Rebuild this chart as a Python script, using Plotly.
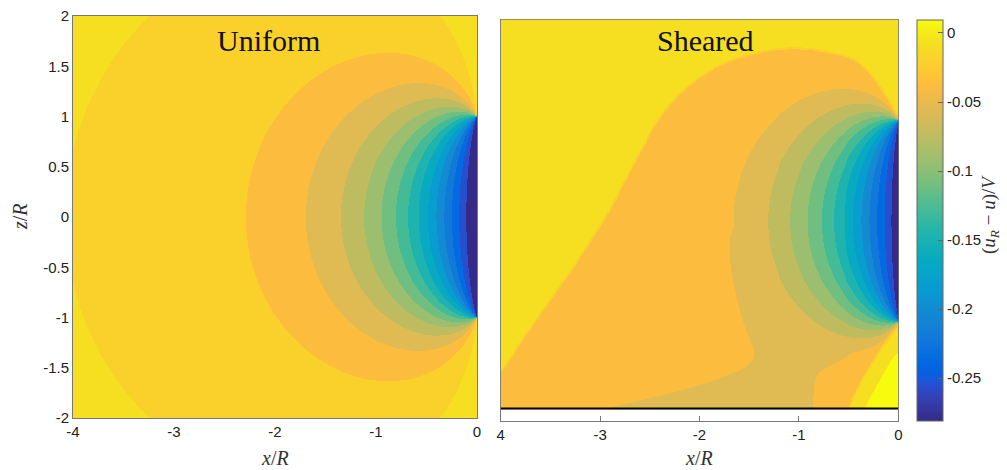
import numpy as np
import plotly.graph_objects as go

W, H = 1007, 470

# ---------------- values ----------------
CMIN, CMAX = -0.281, 0.0094          # colour-axis limits
N_BANDS = 16                         # filled-contour intervals between CMIN and CMAX
DISK_LOAD_UNIFORM = 0.295            # on-disk deficit, uniform inflow
DISK_LOAD_SHEARED = 0.285            # on-disk deficit, sheared inflow
# correction of the disk far field read from the contour positions along z = 0
CORR_W = [0.0, 0.0299, 0.0836, 0.1389, 0.197, 0.312, 0.50, 0.69, 0.90, 1.0]
CORR_RATIO = [1.0, 1.03, 1.09, 1.10, 1.087, 1.077, 1.044, 1.02, 0.995, 1.0]
GROUND_Z = -1.876                    # ground line in the sheared panel

X_TICKS = [-4, -3, -2, -1, 0]
X_TICKTEXT_LEFT = ["-4", "-3", "-2", "-1", "0"]
X_TICKTEXT_RIGHT = ["4", "-3", "-2", "-1", "0"]
Z_TICKS = [2, 1.5, 1, 0.5, 0, -0.5, -1, -1.5, -2]
Z_TICKTEXT = ["2", "1.5", "1", "0.5", "0", "-0.5", "-1", "-1.5", "-2"]
CB_TICKS = [0, -0.05, -0.1, -0.15, -0.2, -0.25]
CB_TICKTEXT = ["0", "-0.05", "-0.1", "-0.15", "-0.2", "-0.25"]

# colour of each filled band (position on the colour bar, 0..1)
BAND_T = [0.0] + [(i + 0.4) / 16 for i in range(1, 15)] + [0.94, 1.0]

# sheared panel: outlines of the regions (x/R, z/R)
MUSH_X = [-4.4, -3.5, -2.95, -2.65, -2.3, -1.85, -1.4, -1.0, -0.6, -0.38, -0.18, -0.05, 0.0, 0.4, 0.4, 0.0, -0.2, -0.38, -0.5, -0.6, -4.4]
MUSH_Z = [-2.08, -0.78, 0.0, 0.6, 1.2, 1.54, 1.69, 1.73, 1.66, 1.58, 1.33, 1.1, 1.03, 1.03, -1.0, -1.0, -1.3, -1.59, -1.85, -2.3, -2.3]
MUSH_VALUE = -0.036
STEM_X = [-0.9, -1.45, -1.68, -1.7, -1.67, -1.55, -1.43, -1.5, -1.86, -2.2, -2.6, -3.05, -3.3, -0.86, -0.86, -0.75, -0.59, -0.3, -0.1, -0.4]
STEM_Z = [0.1, 0.05, -0.05, -0.3, -0.6, -1.06, -1.32, -1.45, -1.59, -1.69, -1.79, -1.88, -2.3, -2.3, -1.55, -1.47, -1.39, -1.2, -1.02, -0.6]
STEM_VALUE = -0.054
CORNER_X = [0.4, 0.0, -0.12, -0.25, -0.35, -0.45, 0.4]
CORNER_Z = [-1.25, -1.27, -1.45, -1.68, -1.88, -2.3, -2.3]
CORNER_VALUE = 0.022
OUTSIDE_SCALE = 0.25

PARULA = [
    (0.2081, 0.1663, 0.5292), (0.2116, 0.1898, 0.5777), (0.2123, 0.2138, 0.6270), (0.2081, 0.2386, 0.6771),
    (0.1959, 0.2645, 0.7279), (0.1707, 0.2919, 0.7792), (0.1253, 0.3242, 0.8303), (0.0591, 0.3598, 0.8683),
    (0.0117, 0.3875, 0.8820), (0.0060, 0.4086, 0.8828), (0.0165, 0.4266, 0.8786), (0.0329, 0.4430, 0.8720),
    (0.0498, 0.4586, 0.8641), (0.0629, 0.4737, 0.8554), (0.0723, 0.4887, 0.8467), (0.0779, 0.5040, 0.8384),
    (0.0793, 0.5200, 0.8312), (0.0749, 0.5375, 0.8263), (0.0641, 0.5570, 0.8240), (0.0488, 0.5772, 0.8228),
    (0.0343, 0.5966, 0.8199), (0.0265, 0.6137, 0.8135), (0.0239, 0.6287, 0.8038), (0.0231, 0.6418, 0.7913),
    (0.0228, 0.6535, 0.7768), (0.0267, 0.6642, 0.7607), (0.0384, 0.6743, 0.7436), (0.0590, 0.6838, 0.7254),
    (0.0843, 0.6928, 0.7062), (0.1133, 0.7015, 0.6859), (0.1453, 0.7098, 0.6646), (0.1801, 0.7177, 0.6424),
    (0.2178, 0.7250, 0.6193), (0.2586, 0.7317, 0.5954), (0.3022, 0.7376, 0.5712), (0.3482, 0.7424, 0.5473),
    (0.3953, 0.7459, 0.5244), (0.4420, 0.7481, 0.5033), (0.4871, 0.7491, 0.4840), (0.5300, 0.7491, 0.4661),
    (0.5709, 0.7485, 0.4494), (0.6099, 0.7473, 0.4337), (0.6473, 0.7456, 0.4188), (0.6834, 0.7435, 0.4044),
    (0.7184, 0.7411, 0.3905), (0.7525, 0.7384, 0.3768), (0.7858, 0.7356, 0.3633), (0.8185, 0.7327, 0.3498),
    (0.8507, 0.7299, 0.3360), (0.8824, 0.7274, 0.3217), (0.9139, 0.7258, 0.3063), (0.9450, 0.7261, 0.2886),
    (0.9739, 0.7314, 0.2666), (0.9938, 0.7455, 0.2403), (0.9990, 0.7653, 0.2164), (0.9955, 0.7861, 0.1967),
    (0.9880, 0.8066, 0.1794), (0.9789, 0.8271, 0.1633), (0.9697, 0.8481, 0.1475), (0.9626, 0.8705, 0.1309),
    (0.9589, 0.8949, 0.1132), (0.9598, 0.9218, 0.0948), (0.9661, 0.9514, 0.0755), (0.9763, 0.9831, 0.0538),
]
PAR = np.array(PARULA)


def parula_rgb(t):
    pos = np.linspace(0, 1, len(PAR))
    return "rgb(%d,%d,%d)" % tuple(int(round(255 * np.interp(t, pos, PAR[:, k]))) for k in range(3))


COLORSCALE = [[i / (len(PARULA) - 1), parula_rgb(i / (len(PARULA) - 1))] for i in range(len(PARULA))]
BAND_COLORS = [parula_rgb(t) for t in BAND_T]
BAND_SCALE = []
for i, col in enumerate(BAND_COLORS):
    BAND_SCALE += [[i / (N_BANDS + 1), col], [(i + 1) / (N_BANDS + 1), col]]

# ---------------- field construction ----------------
NX, NZ = 404, 402
XC = -4 + (np.arange(NX) + 0.5) * 4 / NX
ZC = -2 + (np.arange(NZ) + 0.5) * 4 / NZ


def disk_solid_angle_fraction(xg, zg, m=360, chunk=4000):
    """Solid angle (/2pi) of the unit disk at x=0 seen from points (x, z)."""
    X, Z = np.meshgrid(xg, zg)
    d_all = np.abs(X).ravel()
    r_all = np.abs(Z).ravel()
    out = np.zeros(d_all.size)
    phi = (np.arange(m) + 0.5) * 2 * np.pi / m
    th = (np.arange(m) + 0.5) / m * np.pi - np.pi / 2
    s, c = np.sin(th), np.cos(th)
    for i0 in range(0, d_all.size, chunk):
        d = d_all[i0:i0 + chunk, None]
        r = r_all[i0:i0 + chunk, None]
        res = np.zeros(d.shape[0])
        ins = r[:, 0] <= 1
        if ins.any():
            di, ri = d[ins], r[ins]
            rho = -ri * np.cos(phi) + np.sqrt(np.clip(1 - ri ** 2 * np.sin(phi) ** 2, 0, None))
            rho = np.clip(rho, 0, None)
            den = np.sqrt(di ** 2 + rho ** 2)
            ratio = np.divide(np.broadcast_to(di, den.shape), den, out=np.ones_like(den), where=den > 0)
            res[ins] = (1 - ratio).mean(axis=1)
        out_ = ~ins
        if out_.any():
            do, ro = d[out_], r[out_]
            q = np.sqrt(ro ** 2 - s ** 2)
            den1 = np.sqrt(do ** 2 + (q - c) ** 2)
            den2 = np.sqrt(do ** 2 + (q + c) ** 2)
            f = (np.divide(np.broadcast_to(do, den1.shape), den1, out=np.zeros_like(den1), where=den1 > 0)
                 - np.divide(np.broadcast_to(do, den2.shape), den2, out=np.zeros_like(den2), where=den2 > 0))
            res[out_] = (f * c / q).sum(axis=1) * (np.pi / m) / (2 * np.pi)
        out[i0:i0 + chunk] = res
    return out.reshape(X.shape)


def smooth_polygon(px, pz, n=3):
    p = np.column_stack([px, pz]).astype(float)
    for _ in range(n):
        q = np.roll(p, -1, axis=0)
        a = 0.75 * p + 0.25 * q
        b = 0.25 * p + 0.75 * q
        p = np.empty((2 * len(p), 2))
        p[0::2] = a
        p[1::2] = b
    return p[:, 0], p[:, 1]


def in_polygon(X, Z, px, pz):
    px, pz = smooth_polygon(px, pz)
    inside = np.zeros(X.shape, bool)
    n = len(px)
    j = n - 1
    for i in range(n):
        xi, zi, xj, zj = px[i], pz[i], px[j], pz[j]
        cond = ((zi > Z) != (zj > Z)) & (X < (xj - xi) * (Z - zi) / (zj - zi + 1e-12) + xi)
        inside ^= cond
        j = i
    return inside.astype(float)


def blur(a, sig_px):
    k = int(3 * sig_px) + 1
    t = np.arange(-k, k + 1)
    ker = np.exp(-0.5 * (t / sig_px) ** 2)
    ker /= ker.sum()
    a = np.pad(a, ((k, k), (0, 0)), mode="edge")
    a = np.apply_along_axis(lambda v: np.convolve(v, ker, mode="valid"), 0, a)
    a = np.pad(a, ((0, 0), (k, k)), mode="edge")
    a = np.apply_along_axis(lambda v: np.convolve(v, ker, mode="valid"), 1, a)
    return a


def band_index(u):
    return np.clip(np.floor((u - CMIN) / ((CMAX - CMIN) / N_BANDS)), 0, N_BANDS).astype(np.int8)


W_FRAC = disk_solid_angle_fraction(XC, ZC)
OMEGA = W_FRAC * np.interp(W_FRAC, CORR_W, CORR_RATIO)
U_UNIFORM = -DISK_LOAD_UNIFORM * OMEGA

keep = ZC >= GROUND_Z
ZS = ZC[keep]
D = -DISK_LOAD_SHEARED * OMEGA[keep]
XS, ZZ = np.meshgrid(XC, ZS)
m_mush = blur(in_polygon(XS, ZZ, MUSH_X, MUSH_Z), 1.2)
m_stem = blur(in_polygon(XS, ZZ, STEM_X, STEM_Z), 2.5)
m_corn = blur(in_polygon(XS, ZZ, CORNER_X, CORNER_Z), 3.0)
B = MUSH_VALUE + (STEM_VALUE - MUSH_VALUE) * m_stem
U_SHEARED = m_mush * np.minimum(D, B) + (1 - m_mush) * OUTSIDE_SCALE * D + CORNER_VALUE * m_corn

# ---------------- figure ----------------
fig = go.Figure()
band_common = dict(colorscale=BAND_SCALE, zmin=-0.5, zmax=N_BANDS + 0.5, showscale=False,
                   hoverinfo="skip", zsmooth=False)
fig.add_trace(go.Heatmap(x=XC, y=ZC, z=band_index(U_UNIFORM), xaxis="x", yaxis="y", **band_common))
fig.add_trace(go.Heatmap(x=XC, y=ZS, z=band_index(U_SHEARED), xaxis="x2", yaxis="y2", **band_common))
fig.add_trace(go.Scatter(x=[-4, 0], y=[GROUND_Z, GROUND_Z], xaxis="x2", yaxis="y2", mode="lines",
                         line=dict(color="black", width=2), showlegend=False, hoverinfo="skip"))
fig.add_trace(go.Scatter(
    x=[-10, -10], y=[0, 0], xaxis="x", yaxis="y", mode="markers", showlegend=False, hoverinfo="skip",
    marker=dict(color=[CMIN, CMAX], cmin=CMIN, cmax=CMAX, colorscale=COLORSCALE, showscale=True,
                colorbar=dict(x=917 / W, xanchor="left", xpad=0, ypad=0, thickness=26, thicknessmode="pixels",
                              len=401 / H, lenmode="fraction", y=1 - 220.5 / H, yanchor="middle",
                              outlinecolor="#666", outlinewidth=1, tickvals=CB_TICKS, ticktext=CB_TICKTEXT,
                              ticks="inside", ticklen=5, tickcolor="#666",
                              tickfont=dict(family="Liberation Sans", size=15, color="#222"))),
))

TICKFONT = dict(family="Liberation Sans", size=15, color="#222")
ax_common = dict(showline=True, mirror=True, linecolor="#777", linewidth=1, ticks="inside", ticklen=5,
                 tickcolor="#777", showgrid=False, zeroline=False, tickfont=TICKFONT, layer="below traces",
                 automargin=False)
fig.update_layout(
    width=W, height=H, margin=dict(l=0, r=0, t=0, b=0, autoexpand=False),
    paper_bgcolor="white", plot_bgcolor="white", showlegend=False,
    xaxis=dict(domain=[73 / W, 477 / W], range=[-4, 0], tickvals=X_TICKS, ticktext=X_TICKTEXT_LEFT,
               anchor="y", **ax_common),
    yaxis=dict(domain=[1 - 418 / H, 1 - 16 / H], range=[-2, 2], tickvals=Z_TICKS, ticktext=Z_TICKTEXT,
               anchor="x", **ax_common),
    xaxis2=dict(domain=[500.7 / W, 898.3 / W], range=[-4, 0], tickvals=X_TICKS, ticktext=X_TICKTEXT_RIGHT,
                anchor="y2", **ax_common),
    yaxis2=dict(domain=[1 - 421 / H, 1 - 19.5 / H], range=[-2, 2], tickvals=Z_TICKS, showticklabels=False,
                anchor="x2", **ax_common),
)

SERIF = "Liberation Serif"
ann = [
    dict(text="Uniform", x=268 / W, y=1 - 40 / H, font=dict(family=SERIF, size=30, color="#111")),
    dict(text="Sheared", x=705 / W, y=1 - 40 / H, font=dict(family=SERIF, size=30, color="#111")),
    dict(text="<i>x</i>/<i>R</i>", x=275 / W, y=1 - 458 / H, font=dict(family=SERIF, size=20, color="#333")),
    dict(text="<i>x</i>/<i>R</i>", x=699 / W, y=1 - 458 / H, font=dict(family=SERIF, size=20, color="#333")),
    dict(text="<i>z</i>/<i>R</i>", x=20 / W, y=1 - 217 / H, textangle=-90, font=dict(family=SERIF, size=20, color="#333")),
    dict(text="(<i>u</i><sub><i>R</i></sub> − <i>u</i>)/<i>V</i>", x=990 / W, y=1 - 215 / H, textangle=-90,
         font=dict(family=SERIF, size=19, color="#333")),
]
for a in ann:
    a.update(xref="paper", yref="paper", showarrow=False, xanchor="center", yanchor="middle")
fig.update_layout(annotations=ann)

fig.write_html("out.html", config={"displayModeBar": False},
               post_script="document.body.style.margin='0px';")
